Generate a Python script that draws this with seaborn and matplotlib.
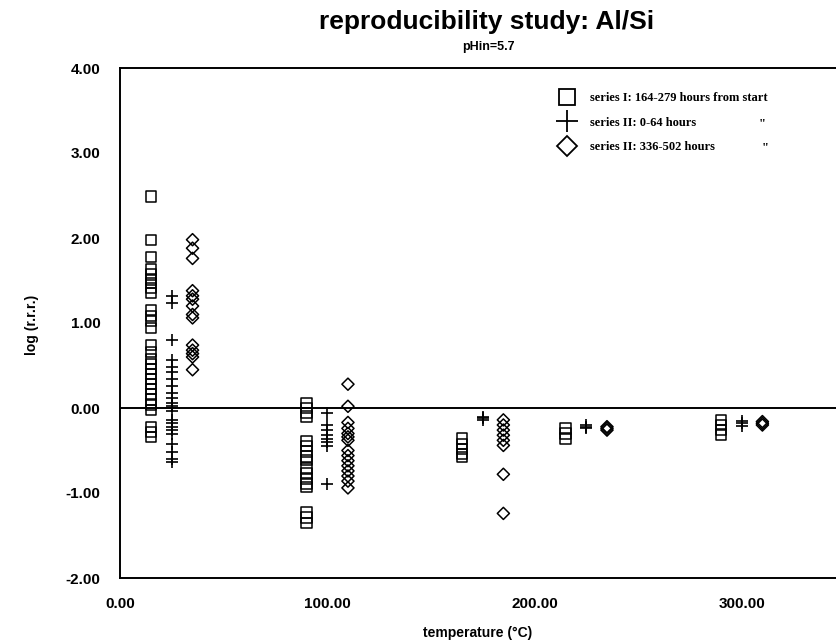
import matplotlib
matplotlib.use("Agg")
import matplotlib.pyplot as plt
from matplotlib.lines import Line2D
import seaborn as sns
import pandas as pd

# ---------------- data ----------------
# series I: 164-279 hours from start (squares)
s1_t15 = [2.49, 1.98, 1.78, 1.63, 1.57, 1.51, 1.47, 1.41, 1.35, 1.15, 1.08, 1.02, 0.94,
          0.74, 0.66, 0.58, 0.52, 0.46, 0.40, 0.34, 0.28, 0.22, 0.16, 0.10, 0.04, -0.02,
          -0.22, -0.28, -0.34]
s1_t90 = [0.06, 0.0, -0.06, -0.10, -0.39, -0.45, -0.51, -0.57, -0.61, -0.71, -0.77,
          -0.83, -0.89, -0.93, -1.23, -1.29, -1.35]
s1_t165 = [-0.36, -0.42, -0.48, -0.54, -0.58]
s1_t215 = [-0.24, -0.30, -0.36]
s1_t290 = [-0.14, -0.20, -0.26, -0.31]

# series II: 0-64 hours (plus)
s2_t25 = [1.32, 1.23, 0.80, 0.56, 0.48, 0.42, 0.34, 0.26, 0.18, 0.12, 0.06, 0.02,
          -0.04, -0.14, -0.18, -0.22, -0.26, -0.30, -0.42, -0.52, -0.60, -0.64]
s2_t100 = [-0.06, -0.20, -0.26, -0.32, -0.36, -0.40, -0.45, -0.89]
s2_t175 = [-0.10, -0.12, -0.14]
s2_t225 = [-0.20, -0.22, -0.24]
s2_t300 = [-0.15, -0.18, -0.21]

# series II: 336-502 hours (diamonds)
s3_t35 = [1.98, 1.88, 1.76, 1.38, 1.32, 1.28, 1.20, 1.10, 1.06, 0.74, 0.68, 0.64, 0.60, 0.45]
s3_t110 = [0.28, 0.02, -0.17, -0.24, -0.30, -0.34, -0.38, -0.50, -0.56, -0.62, -0.68,
           -0.74, -0.80, -0.86, -0.94]
s3_t185 = [-0.14, -0.20, -0.26, -0.32, -0.38, -0.44, -0.78, -1.24]
s3_t235 = [-0.22, -0.24, -0.26]
s3_t310 = [-0.16, -0.18, -0.20]

series_labels = ["series I: 164-279 hours from start",
                 "series II: 0-64 hours",
                 "series II: 336-502 hours"]
x_ticks = [0, 50, 100, 150, 200, 250, 300]
x_tick_labels = ["0.00", "", "100.00", "", "200.00", "", "300.00"]
y_ticks = [-2, -1, 0, 1, 2, 3, 4]
y_tick_labels = ["-2.00", "-1.00", "0.00", "1.00", "2.00", "3.00", "4.00"]

groups = [
    (series_labels[0], 15, s1_t15), (series_labels[0], 90, s1_t90),
    (series_labels[0], 165, s1_t165), (series_labels[0], 215, s1_t215),
    (series_labels[0], 290, s1_t290),
    (series_labels[1], 25, s2_t25), (series_labels[1], 100, s2_t100),
    (series_labels[1], 175, s2_t175), (series_labels[1], 225, s2_t225),
    (series_labels[1], 300, s2_t300),
    (series_labels[2], 35, s3_t35), (series_labels[2], 110, s3_t110),
    (series_labels[2], 185, s3_t185), (series_labels[2], 235, s3_t235),
    (series_labels[2], 310, s3_t310),
]
rows = []
for lab, t, vals in groups:
    for v in vals:
        rows.append({"series": lab, "temperature": t, "value": v})
df = pd.DataFrame(rows)

# ---------------- figure ----------------
sns.set_theme(style="white")
plt.rcParams["font.family"] = ["Liberation Sans", "DejaVu Sans"]
plt.rcParams["text.color"] = "black"
plt.rcParams["xtick.color"] = "black"
plt.rcParams["ytick.color"] = "black"
plt.rcParams["axes.labelcolor"] = "black"

fig = plt.figure(figsize=(8.37, 6.43), dpi=100)
ax = fig.add_axes([120 / 837, 1 - 578 / 643, 1 - 120 / 837, (578 - 68) / 643])

markers = {series_labels[0]: "s", series_labels[1]: "+", series_labels[2]: "D"}
sizes = {series_labels[0]: 55, series_labels[1]: 80, series_labels[2]: 38}
for lab in series_labels:
    sub = df[df["series"] == lab]
    m = markers[lab]
    if m == "+":
        sns.scatterplot(data=sub, x="temperature", y="value", marker="+", color="black",
                        s=sizes[lab], linewidth=1.2, ax=ax, legend=False)
    else:
        sns.scatterplot(data=sub, x="temperature", y="value", marker=m,
                        facecolor="none", edgecolor="black", s=sizes[lab],
                        linewidth=1.1, ax=ax, legend=False)

ax.set_xlim(0, 346)
ax.set_ylim(-2, 4)
ax.axhline(0, color="black", lw=1.4, zorder=1)

ax.set_xticks(x_ticks)
ax.set_xticklabels(x_tick_labels)
ax.set_yticks(y_ticks)
ax.set_yticklabels(y_tick_labels)
ax.tick_params(axis="both", direction="out", length=6, width=1.2, color="black",
               labelsize=11, pad=8, labelcolor="black")
for lbl in ax.get_xticklabels() + ax.get_yticklabels():
    lbl.set_fontweight("bold")

for side in ["left", "top", "bottom"]:
    ax.spines[side].set_color("black")
    ax.spines[side].set_linewidth(1.4)
ax.spines["right"].set_visible(False)

ax.set_xlabel("")
ax.set_ylabel("")
fig.text(478 / 837, 1 - 633 / 643, "temperature (°C)", ha="center", va="center",
         fontsize=10, fontweight="bold", color="black")
fig.text(32 / 837, 1 - 325 / 643, "log (r.r.r.)", ha="center", va="center",
         rotation=90, fontsize=10, fontweight="bold", color="black")

fig.text(487 / 837, 1 - 22 / 643, "reproducibility study: Al/Si", ha="center",
         va="center", fontsize=19, fontweight="bold", color="black")
fig.text(488 / 837, 1 - 47 / 643, "pHin=5.7", ha="center", va="center",
         fontsize=9, fontweight="bold", color="black")

handles = [
    Line2D([], [], marker="s", ls="none", mfc="none", mec="black", ms=11, mew=1.3),
    Line2D([], [], marker="+", ls="none", color="black", ms=16, mew=1.3),
    Line2D([], [], marker="D", ls="none", mfc="none", mec="black", ms=10, mew=1.3),
]
leg = ax.legend(handles, series_labels, loc="upper left",
                bbox_to_anchor=((555 - 120) / 717, (578 - 87) / 510),
                frameon=False, handlelength=1.2, handletextpad=1.2,
                labelspacing=1.0, borderaxespad=0,
                prop={"family": "Liberation Serif", "weight": "bold", "size": 9})
for t in leg.get_texts():
    t.set_color("black")
fig.text(762 / 837, 1 - 124 / 643, '"', ha="center", va="center",
         family="Liberation Serif", fontweight="bold", fontsize=9, color="black")
fig.text(765 / 837, 1 - 148 / 643, '"', ha="center", va="center",
         family="Liberation Serif", fontweight="bold", fontsize=9, color="black")

fig.savefig("out.png", dpi=100)
